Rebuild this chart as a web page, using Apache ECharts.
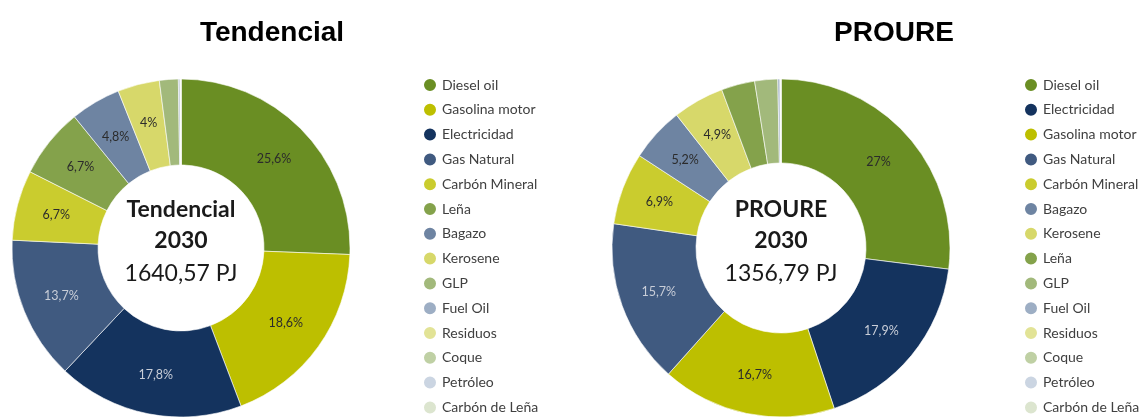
<!DOCTYPE html>
<html>
<head>
<meta charset="utf-8">
<script src="https://cdn.jsdelivr.net/npm/echarts@6/dist/echarts.min.js"></script>
<style>
  html, body { margin: 0; padding: 0; background: #ffffff; }
  #chart { width: 1141px; height: 417px; }
</style>
</head>
<body>
<div id="chart"></div>
<script>
// Final energy consumption mix by source, 2030 (share of total, %)
const tendencialCategories = ['Diesel oil', 'Gasolina motor', 'Electricidad', 'Gas Natural', 'Carbón Mineral', 'Leña', 'Bagazo', 'Kerosene', 'GLP', 'Fuel Oil', 'Residuos', 'Coque', 'Petróleo', 'Carbón de Leña'];
const tendencialValues = [25.6, 18.6, 17.8, 13.7, 6.7, 6.7, 4.8, 4, 1.8, 0.15, 0.05, 0.03, 0.01, 0.01];
const tendencialTotal = '1640,57 PJ';

const proureCategories = ['Diesel oil', 'Electricidad', 'Gasolina motor', 'Gas Natural', 'Carbón Mineral', 'Bagazo', 'Kerosene', 'Leña', 'GLP', 'Fuel Oil', 'Residuos', 'Coque', 'Petróleo', 'Carbón de Leña'];
const proureValues = [27, 17.9, 16.7, 15.7, 6.9, 5.2, 4.9, 3.2, 2.2, 0.2, 0.05, 0.03, 0.01, 0.01];
const proureTotal = '1356,79 PJ';

// Shares below this are left unlabelled
const labelThreshold = 4;

const sourceColors = {
  'Diesel oil': '#6A8E23',
  'Gasolina motor': '#BDBF00',
  'Electricidad': '#14335E',
  'Gas Natural': '#405A80',
  'Carbón Mineral': '#CACC2E',
  'Leña': '#84A24B',
  'Bagazo': '#6E84A2',
  'Kerosene': '#D7D86A',
  'GLP': '#A2B97B',
  'Fuel Oil': '#9DAEC4',
  'Residuos': '#E2E396',
  'Coque': '#BFD0A4',
  'Petróleo': '#CBD5E2',
  'Carbón de Leña': '#DCE5CF'
};
// Slices drawn on a dark fill get a light label
const lightLabelSources = ['Electricidad', 'Gas Natural'];

const labelFont = 'Lato, "Open Sans", sans-serif';

function buildData(names, values) {
  return names.map((name, i) => ({
    name: name,
    value: values[i],
    itemStyle: { color: sourceColors[name] },
    label: {
      show: values[i] >= labelThreshold,
      color: lightLabelSources.includes(name) ? '#C9CED8' : '#2B2B2B'
    }
  }));
}

function fmtPct(v) {
  return String(v).replace('.', ',') + '%';
}

function pieSeries(name, names, values, center, radius) {
  return {
    name: name,
    type: 'pie',
    center: center,
    radius: radius,
    startAngle: 90,
    clockwise: true,
    avoidLabelOverlap: false,
    silent: true,
    itemStyle: { borderColor: '#ffffff', borderWidth: 0.6 },
    label: {
      position: 'inside',
      fontFamily: labelFont,
      fontSize: 12.5,
      formatter: p => fmtPct(p.value)
    },
    labelLine: { show: false },
    emphasis: { disabled: true },
    data: buildData(names, values)
  };
}

function legendFor(names, left) {
  return {
    type: 'plain',
    orient: 'vertical',
    left: left,
    top: 72,
    height: 400,
    icon: 'circle',
    itemWidth: 14,
    itemHeight: 14,
    itemGap: 8.8,
    selectedMode: false,
    textStyle: { fontFamily: labelFont, fontSize: 14, lineHeight: 14, color: '#404040' },
    data: names
  };
}

// Centre captions of each ring: scenario name, year and total
function caption(cx, lines) {
  return lines.map(l => ({
    type: 'text',
    x: cx,
    y: l.y,
    style: {
      text: l.text,
      align: 'center',
      verticalAlign: 'middle',
      font: (l.bold ? 'bold ' : '') + l.size + 'px ' + labelFont,
      fill: '#1a1a1a'
    },
    silent: true
  }));
}

const chart = echarts.init(document.getElementById('chart'), null, { renderer: 'canvas' });

const option = {
  animation: false,
  backgroundColor: '#ffffff',
  title: [
    { text: 'Tendencial', left: 267, top: 14, textAlign: 'center',
      textStyle: { fontFamily: '"Liberation Sans", Arial, sans-serif', fontWeight: 'bold', fontSize: 28, color: '#000000' } },
    { text: 'PROURE', left: 889, top: 14, textAlign: 'center',
      textStyle: { fontFamily: '"Liberation Sans", Arial, sans-serif', fontWeight: 'bold', fontSize: 28, color: '#000000' } }
  ],
  legend: [
    legendFor(tendencialCategories, 417),
    legendFor(proureCategories, 1018)
  ],
  graphic: [].concat(
    caption(181, [
      { text: 'Tendencial', y: 210, bold: true, size: 23 },
      { text: '2030', y: 241, bold: true, size: 23 },
      { text: tendencialTotal, y: 274, bold: false, size: 23 }
    ]),
    caption(781, [
      { text: 'PROURE', y: 210, bold: true, size: 23 },
      { text: '2030', y: 241, bold: true, size: 23 },
      { text: proureTotal, y: 274, bold: false, size: 23 }
    ])
  ),
  series: [
    pieSeries('Tendencial 2030', tendencialCategories, tendencialValues, [181, 248], [83, 169]),
    pieSeries('PROURE 2030', proureCategories, proureValues, [781, 248], [85, 169])
  ]
};

chart.setOption(option);
</script>
</body>
</html>
